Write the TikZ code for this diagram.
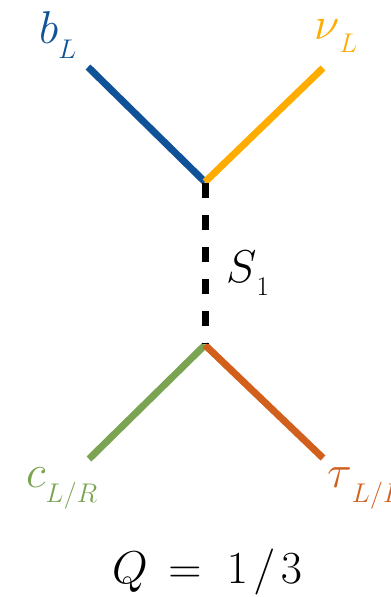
\documentclass[tikz,border=0pt]{standalone}
\usepackage{fix-cm}
\definecolor{cblue}{RGB}{16,82,152}
\definecolor{corange}{RGB}{255,172,0}
\definecolor{cgreen}{RGB}{122,164,82}
\definecolor{cred}{RGB}{210,96,28}
\newcommand{\mainsz}{\fontsize{46bp}{50bp}\selectfont}
\newcommand{\subsz}{\fontsize{27bp}{30bp}\selectfont}
\newcommand{\lbl}[3]{{\mainsz$#1$\raisebox{-#3}{\subsz$#2$}}}
\tikzset{
  leg/.style={line width=7bp},
  prop/.style={line width=7bp, dash pattern=on 15bp off 17bp},
  lab/.style={inner sep=0pt, anchor=base west}
}
\begin{document}
\begin{tikzpicture}[x=1bp,y=-1bp]
\useasboundingbox (0,0) rectangle (390,597);
\coordinate (v1) at (205,182);
\coordinate (v2) at (205,345);
\coordinate (b) at (88,67);
\coordinate (nu) at (323,68);
\coordinate (c) at (89,459);
\coordinate (tau) at (323,458);
\draw[leg, cblue] (b) -- (v1);
\draw[leg, corange] (nu) -- (v1);
\draw[leg, cgreen] (c) -- (v2);
\draw[leg, cred] (tau) -- (v2);
\draw[prop] ([yshift=-1bp]v1) -- ([yshift=1bp]v2);
\node[lab, text=cblue] (lb) at (39,44) {\lbl{b}{L}{15bp}};
\node[lab, text=corange] (lnu) at (314,40) {\lbl{\nu}{L}{13bp}};
\node[lab, text=cgreen] (lc) at (26,487) {\lbl{c}{L/R}{15bp}};
\node[lab, text=cred] (ltau) at (327,487) {\lbl{\tau}{L/R}{15bp}};
\node[lab] (ls) at (226,282) {\lbl{S}{\mathrm{1}}{13bp}};
\node[lab] (q) at (112,583) {\mainsz$Q\mkern3mu=\mkern5mu1\mkern2mu/\mkern2mu3$};
\end{tikzpicture}
\end{document}
